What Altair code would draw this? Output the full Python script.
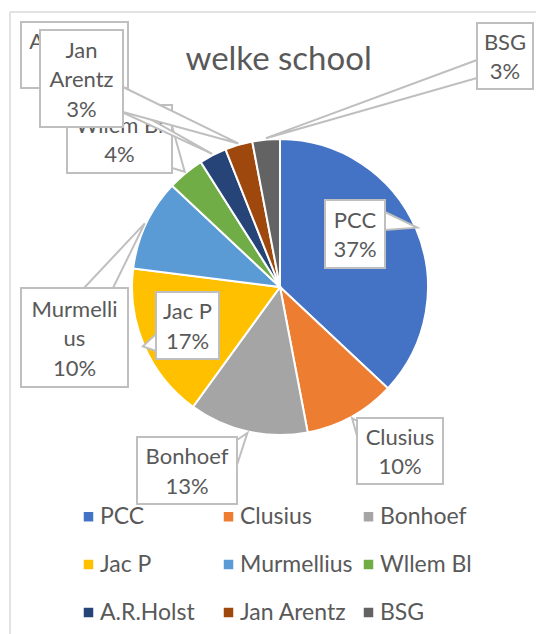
import math
import altair as alt
import pandas as pd

# ---------------- data ----------------
schools = ["PCC", "Clusius", "Bonhoef", "Jac P", "Murmellius",
           "Wllem Bl", "A.R.Holst", "Jan Arentz", "BSG"]
percent = [37, 10, 13, 17, 10, 4, 3, 3, 3]
label_text = ["PCC\n37%", "Clusius\n10%", "Bonhoef\n13%", "Jac P\n17%",
              "Murmelli\nus\n10%", "Wllem Bl\n4%", "A.R.Holst\n3%",
              "Jan\nArentz\n3%", "BSG\n3%"]
colors = ["#4472C4", "#ED7D31", "#A5A5A5", "#FFC000", "#5B9BD5",
          "#70AD47", "#264478", "#9E480E", "#636363"]
title_text = "welke school"

# ---------------- layout (page pixels) ----------------
W, H = 536, 634
PAD_L, PAD_T = 10, 12
CX, CY, R = 280, 287, 148
FONT = "Lato"
TXT = "#595959"
LINE = "#bfbfbf"
LH = 29.5

# callout boxes: x0, y0, x1, y1
boxes = {
    "PCC": (325, 200, 385, 268),
    "Clusius": (357, 418, 443, 484),
    "Bonhoef": (137, 437, 237, 504),
    "Jac P": (156, 292, 219, 359),
    "Murmellius": (21, 288, 128, 387),
    "Wllem Bl": (67, 105, 172, 173),
    "A.R.Holst": (21, 22, 128, 88),
    "Jan Arentz": (40, 30, 123, 127),
    "BSG": (477, 23, 533, 89),
}
# pointer base: side of box and the two positions along that side
pointer_base = {
    "PCC": ("right", 212, 230),
    "Clusius": ("left", 421, 436),
    "Bonhoef": ("right", 440, 465),
    "Jac P": ("left", 334, 351),
    "Murmellius": ("top", 84, 113),
    "Wllem Bl": ("right", 126, 168),
    "A.R.Holst": ("bottom", 70, 95),
    "Jan Arentz": ("right", 87, 112),
    "BSG": ("left", 60, 78),
}
z_group = {"Wllem Bl": 0, "A.R.Holst": 1}

# ---------------- tables ----------------
pie_df = pd.DataFrame({"school": schools, "percent": percent,
                       "idx": list(range(len(schools)))})

total = sum(percent)
cum = 0.0
box_rows, text_rows, vert_rows, hor_rows = [], [], [], []
for name, p, txt in zip(schools, percent, label_text):
    mid = (cum + p / 2) / total * 2 * math.pi
    cum += p
    tx = CX + 1.01 * R * math.sin(mid)
    ty = CY - 1.01 * R * math.cos(mid)
    x0, y0, x1, y1 = boxes[name]
    z = z_group.get(name, 2)
    box_rows.append({"school": name, "x0": x0, "y0": y0, "x1": x1, "y1": y1,
                     "z": z})
    lines = txt.split("\n")
    n = len(lines)
    cy = (y0 + y1) / 2 + 1.5
    for i, ln in enumerate(lines):
        text_rows.append({"school": name, "cx": (x0 + x1) / 2,
                          "cy": cy + (i - (n - 1) / 2) * LH,
                          "text": ln, "z": z})
    side, b1, b2 = pointer_base[name]
    if side in ("left", "right"):
        ex = x0 if side == "left" else x1
        vert_rows.append({"school": name, "x": ex, "y": b1, "y2": b2, "z": z})
        vert_rows.append({"school": name, "x": tx, "y": ty, "y2": ty, "z": z})
    else:
        ey = y0 if side == "top" else y1
        hor_rows.append({"school": name, "y": ey, "x": b1, "x2": b2, "z": z})
        hor_rows.append({"school": name, "y": ty, "x": tx, "x2": tx, "z": z})

box_df = pd.DataFrame(box_rows)
text_df = pd.DataFrame(text_rows)
vert_df = pd.DataFrame(vert_rows)
hor_df = pd.DataFrame(hor_rows)

xs = alt.Scale(domain=[PAD_L, W], nice=False, zero=False)
ys = alt.Scale(domain=[PAD_T, H], nice=False, zero=False, reverse=True)


def X(f):
    return alt.X(f, type="quantitative", scale=xs, axis=None, stack=None)


def Y(f):
    return alt.Y(f, type="quantitative", scale=ys, axis=None, stack=None)


# ---------------- border ----------------
border_df = pd.DataFrame({"x": [PAD_L, PAD_L], "y": [PAD_T, PAD_T],
                          "x2": [W + 50, PAD_L], "y2": [PAD_T, H + 50]})
border = alt.Chart(border_df).mark_rule(color="#d9d9d9", strokeWidth=1.5).encode(
    x=X("x"), y=Y("y"), x2="x2", y2="y2")

# ---------------- pie ----------------
pie = alt.Chart(pie_df).mark_arc(radius=R, stroke="white", strokeWidth=2).encode(
    theta=alt.Theta("percent:Q", stack=True),
    order=alt.Order("idx:Q"),
    color=alt.Color("school:N", sort=schools,
                    scale=alt.Scale(domain=schools, range=colors),
                    legend=alt.Legend(
                        orient="none", legendX=67, legendY=493, columns=3,
                        direction="horizontal",
                        title=None, symbolType="square", symbolSize=90,
                        symbolStrokeWidth=0, labelFont=FONT, labelFontSize=23,
                        labelColor=TXT, labelOffset=0, columnPadding=4,
                        rowPadding=24, gridAlign="all", padding=0, labelLimit=0)),
    x=alt.value(CX - PAD_L), y=alt.value(CY - PAD_T),
)

# ---------------- title ----------------
title_df = pd.DataFrame({"x": [278.6], "y": [70], "t": [title_text]})
title = alt.Chart(title_df).mark_text(
    font=FONT, fontSize=33, color=TXT, baseline="alphabetic", align="center"
).encode(x=X("x"), y=Y("y"), text="t:N")

# ---------------- callouts ----------------
layers = [border, pie, title]
for z in (0, 1, 2):
    vz = vert_df[vert_df.z == z]
    hz = hor_df[hor_df.z == z]
    bz = box_df[box_df.z == z]
    tz = text_df[text_df.z == z]
    if len(vz):
        layers.append(alt.Chart(vz).mark_area(
            orient="vertical", fill="white", stroke=LINE, strokeWidth=2,
            opacity=1).encode(x=X("x"), y=Y("y"), y2="y2", detail="school:N"))
    if len(hz):
        layers.append(alt.Chart(hz).mark_area(
            orient="horizontal", fill="white", stroke=LINE, strokeWidth=2,
            opacity=1).encode(y=Y("y"), x=X("x"), x2="x2", detail="school:N"))
    layers.append(alt.Chart(bz).mark_rect(
        fill="white", stroke=LINE, strokeWidth=2).encode(
        x=X("x0"), x2="x1", y=Y("y0"), y2="y1"))
    layers.append(alt.Chart(tz).mark_text(
        font=FONT, fontSize=22, color=TXT,
        baseline="middle", align="center").encode(
        x=X("cx"), y=Y("cy"), text="text:N"))

chart = alt.layer(*layers).properties(
    width=W - PAD_L, height=H - PAD_T,
    padding={"left": PAD_L, "top": PAD_T, "right": 0, "bottom": 0},
    autosize=alt.AutoSizeParams(type="none"),
    background="white",
).configure_view(stroke=None)

chart.save("out.html", embed_options={"renderer": "svg", "actions": False})
